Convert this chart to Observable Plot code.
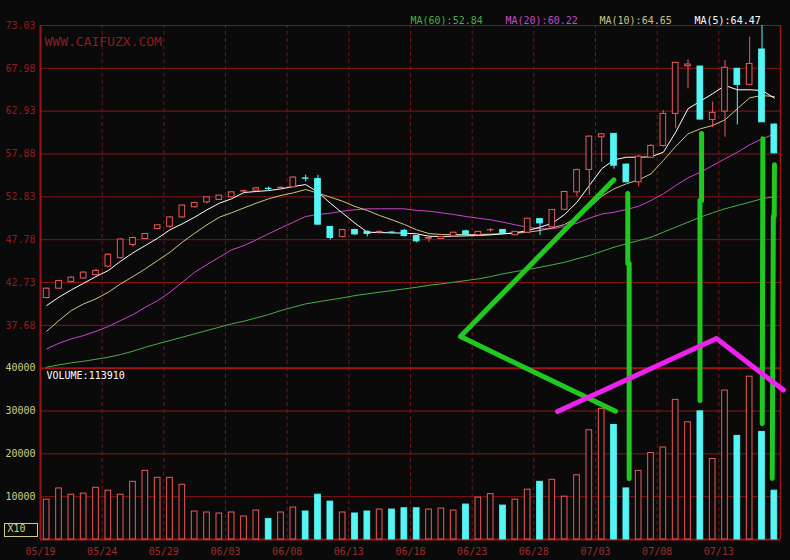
<!DOCTYPE html>
<html><head><meta charset="utf-8">
<script src="https://cdn.jsdelivr.net/npm/d3@7"></script>
<script src="https://cdn.jsdelivr.net/npm/@observablehq/plot@0.6"></script>
<style>
html,body{margin:0;padding:0;background:#0a0a0a;}
#chart svg{display:block;}
</style>
</head><body><div id="chart"></div>
<script>
// ---------- data ----------
const dateLabels = ["05/19","05/24","05/29","06/03","06/08","06/13","06/18","06/23","06/28","07/03","07/08","07/13"];
const priceTicks = [73.03, 67.98, 62.93, 57.88, 52.83, 47.78, 42.73, 37.68];
const volumeTicks = [40000, 30000, 20000, 10000];
const volumeLabel = "VOLUME:113910";
const watermark = "WWW.CAIFUZX.COM";
const maNames = ["MA(60)", "MA(20)", "MA(10)", "MA(5)"];
const maLatest = [52.84, 60.22, 64.65, 64.47];

const opens  = [40.9,42.0,42.8,43.2,43.6,44.6,45.6,47.15,47.86,49.04,49.3,50.4,51.6,52.18,52.46,52.77,53.45,53.56,53.78,53.86,53.95,55.0,54.94,49.28,48.1,48.92,48.7,48.62,48.62,48.83,48.2,47.9,47.86,48.17,48.76,48.3,48.88,48.92,48.3,48.6,50.2,49.23,51.3,53.36,56.0,59.85,60.25,56.63,54.54,57.45,58.83,62.61,68.23,68.19,61.9,62.88,67.92,66.03,70.2,61.35];
const highs  = [42.1,43.0,43.4,44.0,44.3,46.1,47.9,48.1,48.5,49.5,50.5,51.9,52.2,52.8,53.0,53.4,53.6,53.95,54.0,54.0,55.2,55.4,55.37,49.3,49.0,49.0,48.8,48.8,48.75,49.0,48.25,48.1,48.15,48.65,48.9,48.75,49.1,49.0,48.75,50.3,50.25,51.35,53.5,56.1,60.0,60.3,60.3,56.7,57.7,59.0,63.0,68.7,68.98,68.2,64.0,68.9,67.95,71.65,73.03,61.4];
const lows   = [40.8,41.9,42.7,43.1,43.5,44.5,45.5,46.9,47.8,49.0,49.1,50.3,51.5,52.0,52.4,52.7,53.3,53.5,53.5,53.7,53.9,54.6,49.5,47.74,48.0,48.3,48.1,48.4,48.45,48.1,47.4,47.45,47.8,48.1,48.3,48.25,48.65,48.45,48.25,48.5,48.25,49.1,51.2,52.85,53.0,56.9,56.1,54.5,54.0,57.4,58.7,60.84,65.56,61.9,61.0,59.85,61.3,66.0,61.6,57.9];
const closes = [42.0,42.9,43.3,43.9,44.1,46.0,47.8,47.98,48.45,49.47,50.4,51.8,52.1,52.77,52.97,53.36,53.5,53.83,53.74,53.9,55.1,54.96,49.55,47.98,48.92,48.4,48.45,48.7,48.6,48.2,47.58,47.98,48.1,48.6,48.37,48.7,48.9,48.52,48.7,50.25,49.7,51.28,53.4,56.0,59.93,60.2,56.5,54.54,57.57,58.83,62.61,68.63,68.43,61.94,62.73,68.04,66.03,68.5,61.62,57.96];
const volumes = [9300,11920,10460,10700,12080,11390,10460,13470,16020,14400,14400,12780,6530,6300,6070,6300,5370,6760,4750,6300,7450,6530,10460,8840,6300,6070,6530,6990,6990,7290,7290,6990,7220,6760,8150,9770,10600,7920,9300,11620,13470,13940,10000,15000,25510,30510,26740,11920,16020,20190,21480,32600,27360,29910,18800,34770,24190,38010,25120,11391];

const ma5  = [40.01,41.0,41.86,42.64,43.43,44.14,45.24,46.23,47.09,47.95,48.94,49.65,50.43,51.30,52.08,52.6,53.34,53.46,53.57,53.77,54.05,54.28,53.38,52.08,50.9,49.72,48.66,48.62,48.58,48.55,48.47,48.19,48.15,48.19,48.23,48.27,48.35,48.47,48.59,48.86,49.25,49.72,50.75,52.2,54.16,56.13,57.19,57.5,57.5,57.55,58.09,60.45,63.21,64.11,64.98,65.96,65.45,65.45,65.37,64.47];
const ma10 = [36.98,38.25,39.43,40.21,40.8,41.59,42.57,43.43,44.34,45.32,46.3,47.48,48.54,49.53,50.43,50.95,51.53,52.08,52.6,52.99,53.3,53.69,53.26,52.79,52.31,51.69,51.22,50.63,50.12,49.57,48.94,48.5,48.39,48.39,48.39,48.39,48.43,48.47,48.54,48.66,48.86,49.17,49.57,50.43,51.53,52.9,53.77,54.36,54.83,55.54,57.11,58.76,60.26,60.85,61.24,61.91,63.21,64.5,64.78,64.65];
const ma20 = [34.91,35.57,36.08,36.48,36.98,37.54,38.25,38.95,39.81,40.6,41.59,42.76,43.94,44.85,45.71,46.58,47.09,47.76,48.47,49.17,49.84,50.51,50.75,50.9,51.14,51.3,51.42,51.42,51.42,51.42,51.22,51.14,50.95,50.75,50.51,50.31,50.12,49.84,49.53,49.25,49.06,49.06,49.33,49.72,50.31,50.8,51.02,51.33,51.72,52.4,53.18,54.16,55.07,55.73,56.52,57.31,58.09,58.96,59.67,60.22];
const ma60 = [32.74,33.02,33.26,33.45,33.68,33.92,34.24,34.63,35.1,35.5,35.89,36.28,36.68,37.07,37.46,37.86,38.17,38.56,38.95,39.43,39.82,40.21,40.45,40.69,40.92,41.19,41.39,41.59,41.78,41.98,42.17,42.41,42.57,42.76,42.96,43.16,43.43,43.75,44.02,44.26,44.53,44.81,45.12,45.52,45.91,46.4,46.89,47.29,47.68,48.07,48.66,49.25,49.84,50.43,50.95,51.42,51.81,52.2,52.6,52.84];

// hand-drawn annotation strokes, in (bar index, price-panel units)
const greenStrokes = [
  [[46.49,54.84],[34.05,36.36],[46.62,27.55]],
  [[47.62,53.22],[47.62,44.97]],
  [[47.73,44.97],[47.73,19.62]],
  [[53.60,60.30],[53.60,52.39]],
  [[53.47,52.39],[53.47,28.81]],
  [[58.57,59.67],[58.52,26.07]],
  [[59.51,56.60],[59.49,50.51]],
  [[59.42,50.51],[59.33,19.62]]
];
const magentaStrokes = [
  [[41.92,27.52],[54.81,36.12],[60.24,30.05]]
];

// ---------- scale helpers ----------
const PRICE_TOP = priceTicks[0];
const ROW = priceTicks[0] - priceTicks[1];          // one grid row in price units
const DIVIDER = priceTicks[priceTicks.length - 1] - ROW; // top of volume panel
const VOL0 = DIVIDER - (volumeTicks[0] / 10000) * ROW;   // volume zero line
const volY = v => VOL0 + v / 10000 * ROW;
const N = closes.length;

const candles = closes.map((c, i) => ({
  i, o: opens[i], h: highs[i], l: lows[i], c, v: volumes[i], up: c >= opens[i]
}));
const dateTicks = dateLabels.map((t, k) => ({x: k * 5, t}));

const RED = "#ee5a5a", CYAN = "#55f5f5", BG = "#0a0a0a";
const GRID = "#8a1414", GRIDDASH = "#7a1414", BORDER = "#a01414";
const TICKRED = "#8e1e1e", KHAKI = "#cfcf88";
const MA_COLORS = ["#45b045", "#cc44cc", "#cfc480", "#ffffff"];
const FONT = "DejaVu Sans Mono";
const HW = 0.23;

const strokesToRows = (strokes, tag) => strokes.flatMap((s, k) => s.map(([x, y]) => ({x, y, id: tag + k})));

const maSeries = [ma60, ma20, ma10, ma5];
const legendDx = [370, 465, 559, 654];

const chart = Plot.plot({
  width: 790, height: 560,
  marginLeft: 40, marginRight: 10, marginTop: 25, marginBottom: 21,
  x: {domain: [0, N], axis: null},
  y: {domain: [VOL0, PRICE_TOP], axis: null},
  style: {background: BG, fontFamily: FONT, overflow: "visible"},
  marks: [
    // grid
    Plot.ruleX(dateTicks.slice(1), {x: "x", y1: VOL0, y2: PRICE_TOP, stroke: GRIDDASH, strokeDasharray: "4,3", strokeWidth: 1}),
    Plot.ruleY(priceTicks, {x1: 0, x2: N, stroke: GRID}),
    Plot.ruleY(volumeTicks.slice(1), {y: d => volY(d), x1: 0, x2: N, stroke: GRID}),
    Plot.ruleY([DIVIDER], {x1: 0, x2: N, stroke: BORDER, strokeWidth: 2}),
    Plot.ruleY([VOL0], {x1: 0, x2: N, stroke: BORDER, strokeWidth: 2}),
    Plot.ruleX([0], {y1: VOL0, y2: PRICE_TOP, stroke: BORDER, strokeWidth: 2}),
    Plot.ruleX([N], {y1: VOL0, y2: PRICE_TOP, stroke: BORDER, strokeWidth: 1.5}),
    // tick labels
    Plot.text(priceTicks, {x: 0, y: d => d, text: d => d.toFixed(2), dx: -5, textAnchor: "end", fill: TICKRED, fontSize: 10, fontFamily: FONT}),
    Plot.text(volumeTicks, {x: 0, y: d => volY(d), text: d => String(d), dx: -5, textAnchor: "end", fill: KHAKI, fontSize: 10, fontFamily: FONT}),
    Plot.text(dateTicks, {x: "x", y: VOL0, text: "t", dy: 12.5, fill: "#a02a2a", fontSize: 10, fontFamily: FONT}),
    Plot.text(["X10"], {frameAnchor: "bottom-left", dx: -33, dy: -8, textAnchor: "start", fill: KHAKI, fontSize: 10, fontFamily: FONT}),
    Plot.text([watermark], {frameAnchor: "top-left", dx: 4, dy: 11, textAnchor: "start", fill: "#8e1c1c", fontSize: 13, fontFamily: FONT}),
    Plot.text([volumeLabel], {x: 0, y: DIVIDER, dx: 6, dy: 8, textAnchor: "start", fill: "#ffffff", fontSize: 10, fontFamily: FONT}),
    // legend
    ...maNames.map((nm, k) => Plot.text([nm + ":" + maLatest[k].toFixed(2)], {frameAnchor: "top-left", dx: legendDx[k], dy: -8.5, textAnchor: "start", fill: MA_COLORS[k], fontSize: 10, fontFamily: FONT})),
    // volume bars
    Plot.rect(candles, {x1: d => d.i + 0.5 - HW, x2: d => d.i + 0.5 + HW, y1: VOL0, y2: d => volY(d.v),
      fill: d => d.up ? BG : CYAN, stroke: d => d.up ? RED : CYAN, strokeWidth: 1}),
    // MA lines
    ...maSeries.map((arr, k) => Plot.line(arr, {x: (d, i) => i + 0.5, y: d => d, stroke: MA_COLORS[k], strokeWidth: 1})),
    // candles
    Plot.ruleX(candles, {x: d => d.i + 0.5, y1: "l", y2: "h", stroke: d => d.up ? RED : CYAN, strokeWidth: 1}),
    Plot.rect(candles, {x1: d => d.i + 0.5 - HW, x2: d => d.i + 0.5 + HW, y1: "o", y2: "c",
      fill: d => d.up ? BG : CYAN, stroke: d => d.up ? RED : CYAN, strokeWidth: 1}),
    // annotations
    Plot.line(strokesToRows(greenStrokes, "g"), {x: "x", y: "y", z: "id", stroke: "#22c822", strokeWidth: 5, strokeLinecap: "round", strokeLinejoin: "round"}),
    Plot.line(strokesToRows(magentaStrokes, "m"), {x: "x", y: "y", z: "id", stroke: "#ee22ee", strokeWidth: 5, strokeLinecap: "round", strokeLinejoin: "round"})
  ]
});

document.getElementById("chart").appendChild(chart);
// frame box around the X10 label
d3.select(chart).append("rect")
  .attr("x", 4.5).attr("y", 523.5).attr("width", 33).attr("height", 13)
  .attr("fill", "none").attr("stroke", KHAKI).attr("stroke-width", 1);
</script>
</body></html>
